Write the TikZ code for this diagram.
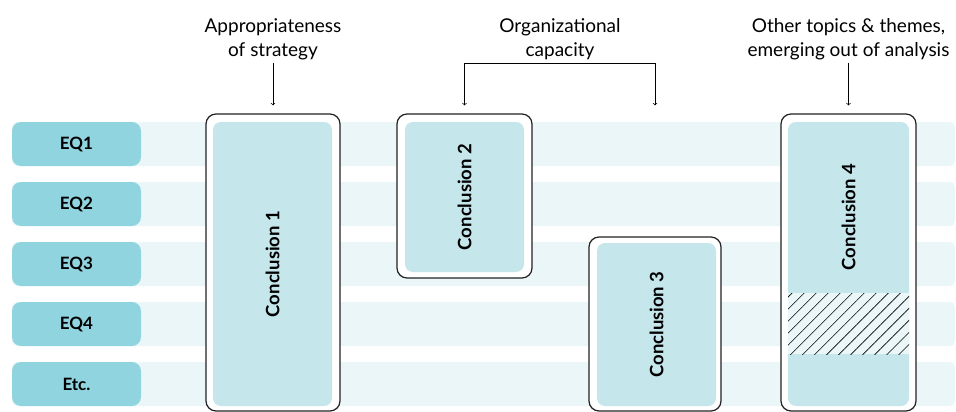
\documentclass[tikz,border=0pt]{standalone}
\usepackage{fontspec}
\setmainfont{Lato}
\usepackage{tikz}
\usetikzlibrary{arrows,positioning,calc,patterns.meta}
\definecolor{bandcol}{HTML}{EAF6F7}
\definecolor{eqcol}{HTML}{8FD4DF}
\definecolor{conccol}{HTML}{C5E6EB}
\definecolor{framecol}{HTML}{222222}

\begin{document}
\begin{tikzpicture}[x=1pt, y=-1pt,
    band/.style={fill=bandcol, rounded corners=5pt},
    eqbox/.style={fill=eqcol, rounded corners=9pt, minimum width=129pt, minimum height=44pt, font=\fontsize{17}{20}\selectfont\bfseries},
    frame/.style={draw=framecol, line width=1.2pt, fill=white, rounded corners=10pt},
    conc/.style={fill=conccol, rounded corners=8pt, inner sep=0pt},
    conclabel/.style={rotate=90, font=\fontsize{18.5}{22}\selectfont\bfseries},
    toplabel/.style={align=center, anchor=south, inner sep=3pt, font=\fontsize{19}{24}\selectfont},
    pointer/.style={->, line width=0.7pt, shorten >=8pt}]
    \useasboundingbox (0,0) rectangle (956,412);

    \foreach \y/\lab [count=\i] in {122/EQ1, 182/EQ2, 242/EQ3, 302/EQ4, 362/Etc.} {
        \fill[band] (12,\y) rectangle (955,\y+44);
        \node[eqbox] (eq\i) at (76.5,\y+22) {\lab};
    }

    \node[frame, minimum width=134pt, minimum height=297pt] (c1) at (273,262.5) {};
    \node[conc, minimum width=119pt, minimum height=284pt] (c1in) at (272.5,264) {};
    \node[conclabel] (c1text) at (c1in) {Conclusion 1};

    \node[frame, minimum width=135pt, minimum height=164pt] (c2) at (464.5,196) {};
    \node[conc, minimum width=119pt, minimum height=150pt] (c2in) at (464.5,197) {};
    \node[conclabel] (c2text) at (c2in) {Conclusion 2};

    \node[frame, minimum width=132pt, minimum height=174pt] (c3) at (655,324) {};
    \node[conc, minimum width=119pt, minimum height=163pt] (c3in) at (656.5,324.5) {};
    \node[conclabel] (c3text) at (c3in) {Conclusion 3};

    \node[frame, minimum width=135pt, minimum height=297pt] (c4) at (848.5,262.5) {};
    \node[conc, minimum width=121pt, minimum height=284pt] (c4in) at (848.5,264) {};
    \fill[bandcol] (788,293) rectangle (909,354);
    \fill[pattern={Lines[angle=45, distance=8.5pt, line width=0.6pt]}, pattern color=black] (788,293) rectangle (909,354);
    \node[conclabel] (c4text) at (848.5,217) {Conclusion 4};

    \node[toplabel] (strategy) at (273,63) {Appropriateness\\of strategy};
    \node[toplabel] (capacity) at (560,63) {Organizational\\capacity};
    \node[toplabel] (themes) at (848.5,63) {Other topics \& themes,\\emerging out of analysis};

    \draw[pointer] (strategy.south) -- (c1.north);
    \draw[pointer, <->, shorten <=8pt] (c2.north) -- (c2.north |- capacity.south) -- (c3.north |- capacity.south) -- (c3.north |- c2.north);
    \draw[pointer] (themes.south) -- (c4.north);
\end{tikzpicture}
\end{document}
